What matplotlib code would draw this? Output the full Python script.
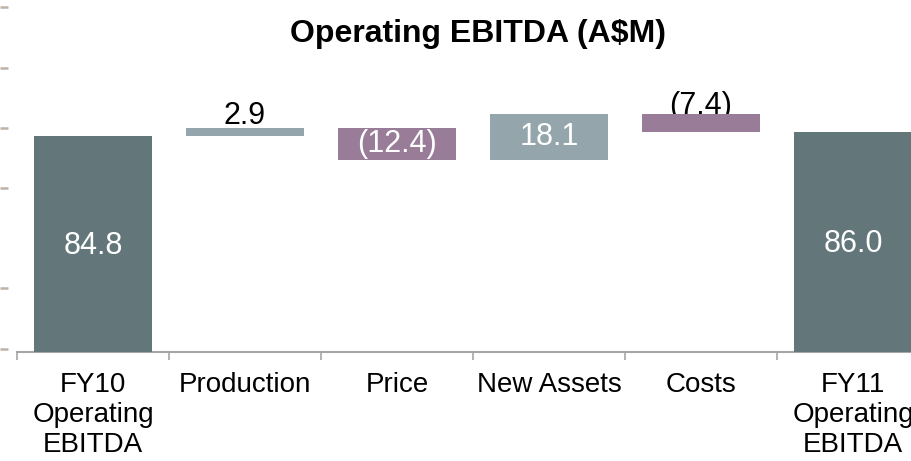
import matplotlib
matplotlib.use("Agg")
import matplotlib.pyplot as plt
import numpy as np

plt.rcParams['font.family'] = ['Liberation Sans', 'DejaVu Sans']

# ---- data ----
categories = ["FY10\nOperating\nEBITDA", "Production", "Price", "New Assets", "Costs",
              "FY11\nOperating\nEBITDA"]
values = [84.8, 2.9, -12.4, 18.1, -7.4, 86.0]
kinds = ["total", "delta", "delta", "delta", "delta", "total"]
labels = ["84.8", "2.9", "(12.4)", "18.1", "(7.4)", "86.0"]
left_ticks = [0.8, 25.1, 64.0, 87.9, 111.5, 135.1]

# ---- style ----
c_total = "#63777b"
c_pos = "#94a6ac"
c_neg = "#987c98"

W, H = 911, 461
fig = plt.figure(figsize=(W / 100, H / 100), dpi=100)

ax_l, ax_b, ax_t = 17, 351.5, 0
ax = fig.add_axes([ax_l / W, 1 - ax_b / H, 912 / W, (ax_b - ax_t) / H])

x = np.arange(len(categories))
bottoms, heights, colors = [], [], []
running = 0.0
for v, k in zip(values, kinds):
    if k == "total":
        bottoms.append(0.0)
        heights.append(v)
        colors.append(c_total)
        running = v
    else:
        if v >= 0:
            bottoms.append(running)
            heights.append(v)
            colors.append(c_pos)
        else:
            bottoms.append(running + v)
            heights.append(-v)
            colors.append(c_neg)
        running += v

bars = ax.bar(x, heights, bottom=bottoms, width=0.78, color=colors, zorder=3)

ymax = ax_b / 2.547
ax.set_ylim(0, ymax)
ax.set_xlim(-0.5, len(categories) - 0.5)

# value labels
fs_val = 22
for i, (b, h, lab) in enumerate(zip(bottoms, heights, labels)):
    if kinds[i] == "total":
        ax.text(x[i], b + h * 0.49, lab, ha="center", va="center", color="white",
                fontsize=fs_val, zorder=4)
    elif lab == "2.9":
        ax.annotate(lab, (x[i], b + h), xytext=(0, 3), textcoords="offset points",
                    ha="center", va="baseline", color="black", fontsize=fs_val, zorder=2)
    elif lab == "(7.4)":
        ax.annotate(lab, (x[i], b + h), xytext=(0, 0), textcoords="offset points",
                    ha="center", va="baseline", color="black", fontsize=fs_val, zorder=2)
    else:
        ax.text(x[i], b + h / 2, lab, ha="center", va="center", color="white",
                fontsize=fs_val, zorder=4)

# axes styling
for s in ["top", "right", "left"]:
    ax.spines[s].set_visible(False)
ax.spines["bottom"].set_color("#a6a6a6")
ax.spines["bottom"].set_linewidth(1.5)
ax.set_yticks([])
ax.set_xticks(x)
ax.set_xticklabels(categories, fontsize=20, linespacing=1.2)
ax.tick_params(axis="x", which="major", length=0, pad=15, colors="black")
ax.set_xticks(np.arange(-0.5, len(categories), 1.0), minor=True)
ax.tick_params(axis="x", which="minor", length=6, width=1.2, color="#a6a6a6", direction="out")

# left stray ticks
ax2 = fig.add_axes([8 / W, 1 - ax_b / H, 1 / W, (ax_b - ax_t) / H])
ax2.set_frame_on(False)
ax2.set_ylim(0, ymax)
ax2.set_xticks([])
ax2.set_yticks(left_ticks)
ax2.set_yticklabels([])
ax2.tick_params(axis="y", length=6, width=1.8, color="#bdb3a8", direction="out")

fig.text(478 / W, 1 - 34 / H, "Operating EBITDA (A$M)", ha="center", va="center",
         fontsize=23, fontweight="bold")

fig.savefig("out.png", dpi=100)
